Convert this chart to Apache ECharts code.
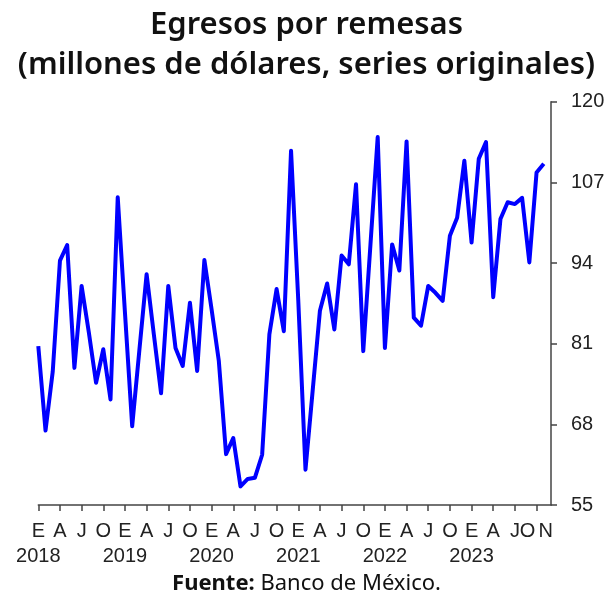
<!DOCTYPE html>
<html>
<head>
<meta charset="utf-8">
<script src="https://cdn.jsdelivr.net/npm/echarts@6/dist/echarts.min.js"></script>
<style>
html,body{margin:0;padding:0;background:#fff;}
#chart{width:613px;height:600px;}
</style>
</head>
<body>
<div id="chart"></div>
<script>
// Month initials (Spanish) and years
const monthInitials = ['E','F','M','A','M','J','J','A','S','O','N','D'];
const years = ['2018','2019','2020','2021','2022','2023'];
// Categories: Jan 2018 .. Dec 2023
const categories = [];
years.forEach(function (y) { monthInitials.forEach(function (m) { categories.push(m); }); });

// Egresos por remesas, millones de dólares (Jan 2018 - Nov 2023)
const values2018 = [80.6, 67.0, 76.5, 94.4, 96.9, 77.1, 90.3, 82.8, 74.7, 80.1, 72.0, 104.6];
const values2019 = [86.0, 67.7, 80.0, 92.2, 82.5, 73.0, 90.3, 80.3, 77.4, 87.6, 76.6, 94.5];
const values2020 = [86.5, 78.2, 63.2, 65.8, 58.0, 59.2, 59.4, 63.1, 82.5, 89.8, 83.0, 112.1];
const values2021 = [88.0, 60.7, 73.5, 86.3, 90.7, 83.3, 95.2, 93.8, 106.7, 79.8, 97.0, 114.3];
const values2022 = [80.3, 97.0, 92.8, 113.6, 85.2, 83.9, 90.3, 89.2, 87.9, 98.4, 101.3, 110.5];
const values2023 = [97.3, 110.8, 113.5, 88.5, 101.1, 103.8, 103.5, 104.5, 94.1, 108.6, 110.0, null];
const values = [].concat(values2018, values2019, values2020, values2021, values2022, values2023);

// Y-axis scale
const yMin = 55, yMax = 120, yStep = 13;

const chart = echarts.init(document.getElementById('chart'));
const axisColor = '#444';
const labelFont = 'Liberation Sans, Arial, sans-serif';
const lastIndex = 70; // Nov 2023

function labelAxis(showFn, margin, formatter) {
  return {
    type: 'category',
    data: categories,
    boundaryGap: false,
    position: 'bottom',
    axisLine: { show: false },
    axisTick: { show: false },
    splitLine: { show: false },
    axisLabel: {
      interval: showFn,
      hideOverlap: false,
      margin: margin,
      fontFamily: labelFont,
      fontSize: 20,
      color: '#222',
      formatter: formatter
    }
  };
}

// Main month axis (line + ticks + E/A/J/O)
const monthAxis = labelAxis(
  function (i) { return i % 3 === 0; },
  16,
  function (value, index) { return index === 69 ? '{sh|' + value + '}' : value; }
);
monthAxis.axisLine = { show: true, lineStyle: { color: axisColor, width: 1.5 } };
monthAxis.axisTick = {
  show: true, length: 6,
  interval: function (i) { return i % 3 === 0; },
  lineStyle: { color: axisColor, width: 1.5 }
};
monthAxis.axisLabel.rich = { sh: { fontFamily: labelFont, fontSize: 20, color: '#222', padding: [0, 18, 0, 0] } };

// Year axis
const yearAxis = labelAxis(
  function (i) { return i % 12 === 0; },
  41,
  function (value, index) { return years[Math.floor(index / 12)]; }
);

// Final month label (N)
const endAxis = labelAxis(
  function (i) { return i === lastIndex; },
  16,
  function (value) { return '{n|' + value + '}'; }
);
endAxis.axisLabel.rich = { n: { fontFamily: labelFont, fontSize: 20, color: '#222', padding: [0, 0, 0, 4] } };

chart.setOption({
  animation: false,
  title: {
    text: 'Egresos por remesas\n(millones de dólares, series originales)',
    left: 'center',
    top: 0,
    textStyle: {
      fontFamily: 'Noto Sans',
      fontWeight: 600,
      fontSize: 31,
      lineHeight: 40,
      color: '#111'
    }
  },
  graphic: [{
    type: 'text',
    left: 'center',
    top: 573,
    style: {
      text: '{b|Fuente:} Banco de México.',
      fontFamily: 'Noto Sans',
      fontSize: 22,
      fill: '#111',
      rich: {
        b: { fontFamily: 'Noto Sans', fontSize: 22, fontWeight: 700, fill: '#111' }
      }
    }
  }],
  grid: { left: 38.3, right: 62, top: 101.7, bottom: 95 },
  xAxis: [monthAxis, yearAxis, endAxis],
  yAxis: {
    type: 'value',
    position: 'right',
    min: yMin,
    max: yMax,
    interval: yStep,
    axisLine: { show: true, lineStyle: { color: axisColor, width: 1.5 } },
    axisTick: { show: true, length: 6, lineStyle: { color: axisColor, width: 1.5 } },
    axisLabel: {
      margin: 20,
      fontFamily: labelFont,
      fontSize: 20,
      color: '#222'
    },
    splitLine: { show: false }
  },
  series: [{
    type: 'line',
    xAxisIndex: 0,
    data: values,
    showSymbol: false,
    symbol: 'none',
    connectNulls: false,
    lineStyle: { color: '#0000ff', width: 4, join: 'round' }
  }]
});
</script>
</body>
</html>
